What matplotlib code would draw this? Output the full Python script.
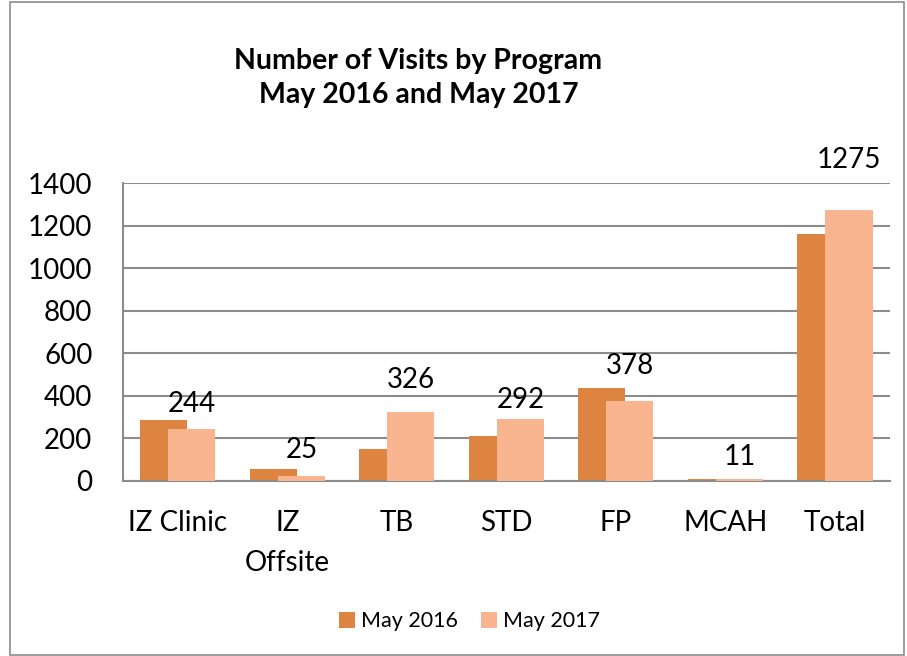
import matplotlib
matplotlib.use("Agg")
import matplotlib.pyplot as plt
import numpy as np
from matplotlib.patches import Rectangle

plt.rcParams['font.family'] = ['Lato', 'DejaVu Sans']

programs = ["IZ Clinic", "IZ\nOffsite", "TB", "STD", "FP", "MCAH", "Total"]
may_2016 = [287, 55, 149, 211, 437, 8, 1160]
may_2017 = [244, 25, 326, 292, 378, 11, 1275]
# gap (px) between bar top and the label, as placed in the original
label_gap = [17, 18, 24, 11, 27, 14, 42]

c2016 = "#DD8540"
c2017 = "#F8B590"

fig = plt.figure(figsize=(9.07, 6.56), dpi=100)
ax = fig.add_axes([0.1356, 0.2668, 0.8454, 0.4542])

x = np.arange(len(programs))
w = 0.43
off = 0.128
ax.bar(x - off, may_2016, width=w, color=c2016, label="May 2016", zorder=2)
ax.bar(x + off, may_2017, width=w, color=c2017, label="May 2017", zorder=3)

for xi, v, g in zip(x, may_2017, label_gap):
    ax.annotate(str(v), (xi + off, v), xytext=(0, g * 0.72), textcoords='offset points',
                ha='center', va='baseline', fontsize=20, zorder=4)

ax.set_xlim(-0.5, len(programs) - 0.5)
ax.set_ylim(0, 1400)
ax.set_yticks(range(0, 1401, 200))
ax.yaxis.grid(True, color='#8c8c8c', linewidth=1.5, zorder=0)
ax.set_axisbelow(True)
ax.set_xticks(x)
ax.set_xticklabels(programs, fontsize=20, linespacing=1.65)
ax.tick_params(axis='y', labelsize=20, length=0, pad=22)
ax.tick_params(axis='x', length=0, pad=21)
for s in ['top', 'right']:
    ax.spines[s].set_visible(False)
for s in ['left', 'bottom']:
    ax.spines[s].set_color('#8c8c8c')
    ax.spines[s].set_linewidth(1.5)

fig.text(0.4614, 0.881, "Number of Visits by Program\nMay 2016 and May 2017",
         ha='center', va='center', fontsize=20.5, fontweight='bold', linespacing=1.4)

fig.legend(loc='center', bbox_to_anchor=(0.5176, 0.053), ncol=2, frameon=False,
           fontsize=15.5, handlelength=0.75, handleheight=0.75, columnspacing=1.1, handletextpad=0.25)

fig.patches.append(Rectangle((0.011, 0.002), 0.986, 0.995, transform=fig.transFigure,
                             fill=False, edgecolor='#8c8c8c', linewidth=1.2))

fig.savefig("out.png", dpi=100)
